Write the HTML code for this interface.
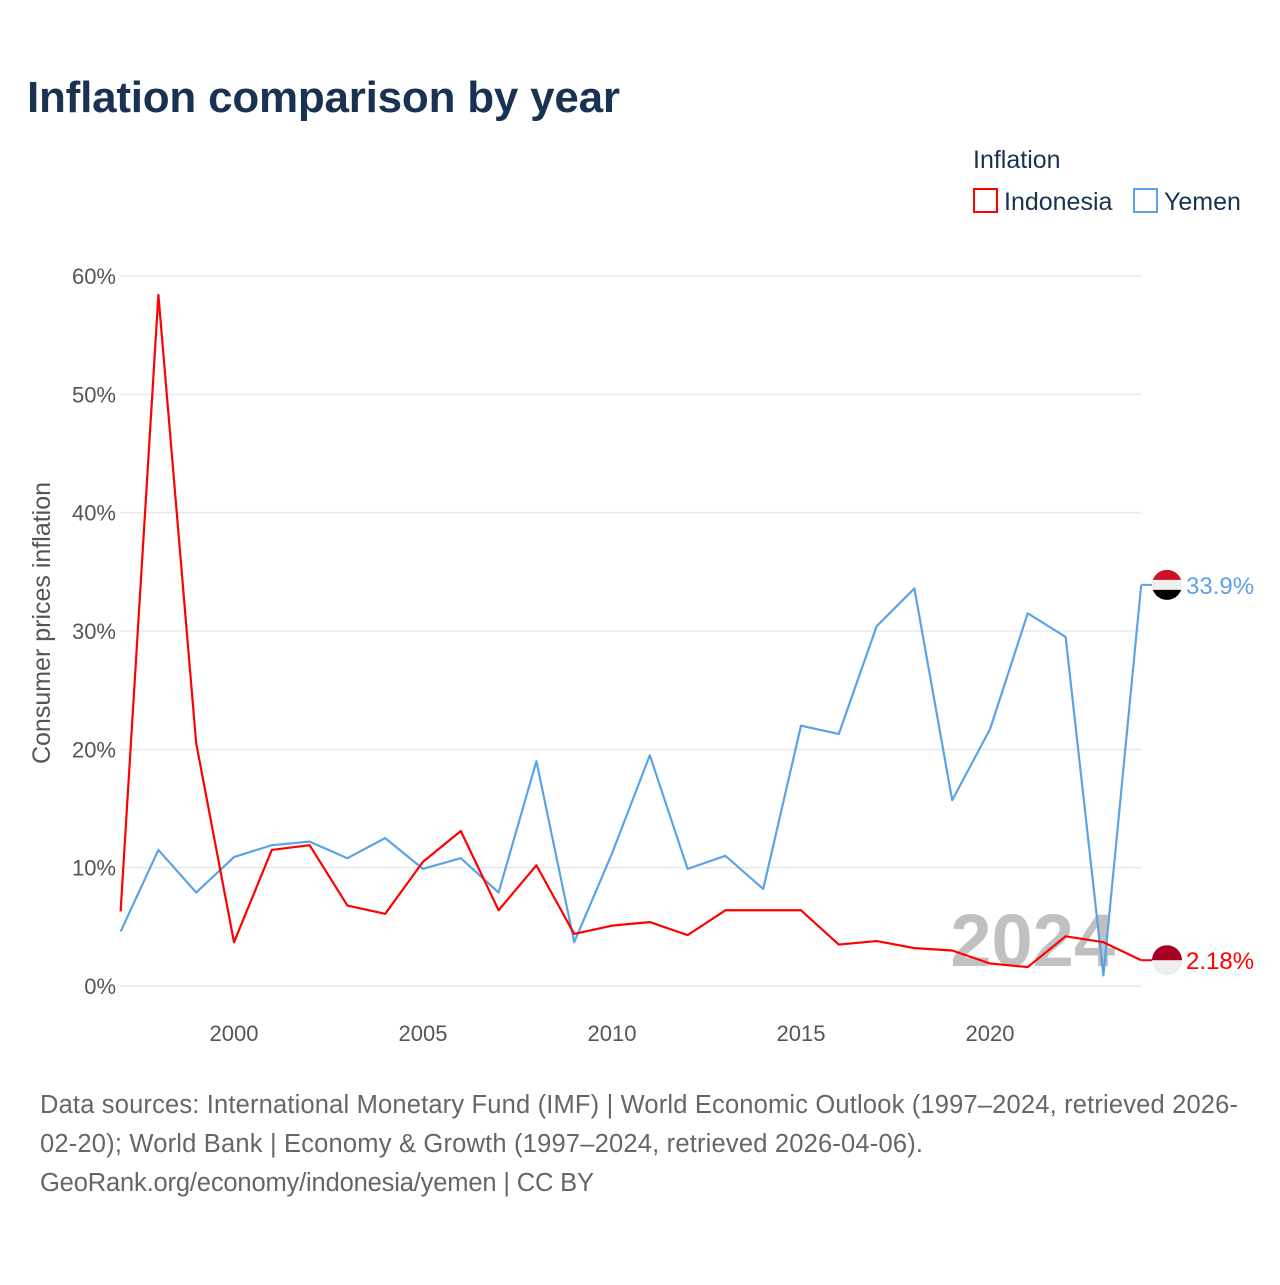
<!DOCTYPE html>
<html><head><meta charset="utf-8"><style>
body{margin:0;background:#fff;font-family:"Liberation Sans",sans-serif;}
</style></head><body>
<svg width="1280" height="1280" xmlns="http://www.w3.org/2000/svg">
<rect width="1280" height="1280" fill="#fff"/>
<text x="27" y="112" font-size="44" font-weight="bold" fill="#1a3252" textLength="593">Inflation comparison by year</text>
<text x="973" y="168" font-size="25" fill="#1a3252">Inflation</text>
<g><rect x="974" y="189" width="23" height="23" fill="none" stroke="#ff0000" stroke-width="2"/><text x="1004" y="210" font-size="25" fill="#1a3252">Indonesia</text></g>
<g><rect x="1134" y="189" width="23" height="23" fill="none" stroke="#5ba3e6" stroke-width="2"/><text x="1164" y="210" font-size="25" fill="#1a3252">Yemen</text></g>
<g id="grid"></g><g id="yt"></g><g id="xt"></g>
<text x="1115" y="966" font-size="74" font-weight="bold" fill="#c0c0c0" text-anchor="end">2024</text>
<g id="lines"></g>
<text transform="translate(50,623) rotate(-90)" font-size="25" fill="#555" text-anchor="middle">Consumer prices inflation</text>
<g id="ends"></g>
<g font-size="25.5" fill="#666">
<text x="40" y="1113" textLength="1198">Data sources: International Monetary Fund (IMF) | World Economic Outlook (1997–2024, retrieved 2026-</text>
<text x="40" y="1152" textLength="883">02-20); World Bank | Economy &amp; Growth (1997–2024, retrieved 2026-04-06).</text>
<text x="40" y="1191" textLength="554">GeoRank.org/economy/indonesia/yemen | CC BY</text>
</g>
</svg>
<script>
const years=[1997,1998,1999,2000,2001,2002,2003,2004,2005,2006,2007,2008,2009,2010,2011,2012,2013,2014,2015,2016,2017,2018,2019,2020,2021,2022,2023,2024];
const indonesia=[6.3,58.4,20.5,3.7,11.5,11.9,6.8,6.1,10.5,13.1,6.4,10.2,4.4,5.1,5.4,4.3,6.4,6.4,6.4,3.5,3.8,3.2,3.0,1.9,1.6,4.2,3.7,2.18];
const yemen=[4.6,11.5,7.9,10.9,11.9,12.2,10.8,12.5,9.9,10.8,7.9,19.0,3.7,11.2,19.5,9.9,11.0,8.2,22.0,21.3,30.4,33.6,15.7,21.7,31.5,29.5,0.9,33.9];
const yTicks=[0,10,20,30,40,50,60];
const xTicks=[2000,2005,2010,2015,2020];
const NS="http://www.w3.org/2000/svg";
const x=v=>120.6+(v-1997)*37.8;
const y=v=>986-v*11.833;
function mk(tag,attrs,parent,txt){const e=document.createElementNS(NS,tag);for(const k in attrs)e.setAttribute(k,attrs[k]);if(txt!=null)e.textContent=txt;document.getElementById(parent).appendChild(e);return e;}
yTicks.forEach(t=>{
 const l=mk('line',{x1:120,x2:1141,y1:y(t),y2:y(t),stroke:'#e8e8e8','stroke-width':1.5},'grid');
 
 
 const tx=mk('text',{x:116,y:y(t)+8,'font-size':22,fill:'#555','text-anchor':'end'},'yt',t+'%');
 
 
});
xTicks.forEach(t=>{
 const tx=mk('text',{x:x(t),y:1041,'font-size':22,fill:'#555','text-anchor':'middle'},'xt',String(t));
 
 
});
function line(data,color,name){
 const p=mk('polyline',{points:data.map((v,i)=>x(years[i])+','+y(v)).join(' '),fill:'none',stroke:color,'stroke-width':2.2,'stroke-linejoin':'round'},'lines');
 
 
}
line(yemen,'#5ba3e6','yemen-line');
line(indonesia,'#ff0000','indonesia-line');
function end(v,color,name,flag){
 const yy=y(v),xe=x(2024);
 mk('line',{x1:xe,x2:xe+12,y1:yy,y2:yy,stroke:color,'stroke-width':2},'ends');
 const g=mk('g',{},'ends');
 
 
 const cx=1167,r=15;
 const cp=mk('clipPath',{id:'c'+name},'ends');
 const c=document.createElementNS(NS,'circle');c.setAttribute('cx',cx);c.setAttribute('cy',yy);c.setAttribute('r',r);cp.appendChild(c);
 flag.forEach((col,i)=>{const rr=document.createElementNS(NS,'rect');rr.setAttribute('x',cx-r);rr.setAttribute('y',yy-r+i*2*r/flag.length);rr.setAttribute('width',2*r);rr.setAttribute('height',2*r/flag.length+0.5);rr.setAttribute('fill',col);rr.setAttribute('clip-path','url(#c'+name+')');g.appendChild(rr);});
 const t=mk('text',{x:1186,y:yy+9,'font-size':24,fill:color},'ends',(name==='yemen'?v.toFixed(1):v.toFixed(2))+'%');
 
 
}
end(yemen[yemen.length-1],'#5ba3e6','yemen',['#ce1126','#eeeeee','#000000']);
end(indonesia[indonesia.length-1],'#ff0000','indonesia',['#a50021','#eeeeee']);
</script>
</body></html>
